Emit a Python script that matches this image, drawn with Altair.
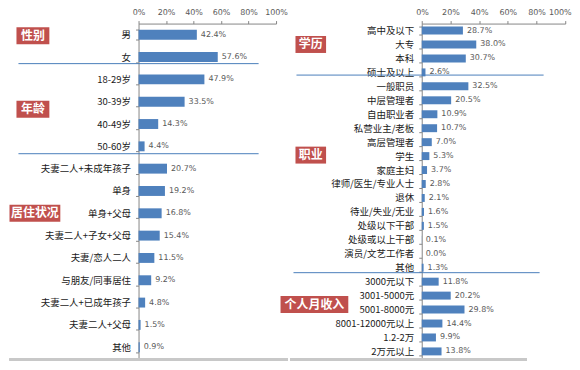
import altair as alt
import pandas as pd

# ---------------- data ----------------
left_cats = ["男", "女", "18-29岁", "30-39岁", "40-49岁", "50-60岁",
             "夫妻二人+未成年孩子", "单身", "单身+父母", "夫妻二人+子女+父母",
             "夫妻/恋人二人", "与朋友/同事居住", "夫妻二人+已成年孩子",
             "夫妻二人+父母", "其他"]
left_vals = [42.4, 57.6, 47.9, 33.5, 14.3, 4.4, 20.7, 19.2, 16.8, 15.4,
             11.5, 9.2, 4.8, 1.5, 0.9]

right_cats = ["高中及以下", "大专", "本科", "硕士及以上",
              "一般职员", "中层管理者", "自由职业者", "私营业主/老板", "高层管理者",
              "学生", "家庭主妇", "律师/医生/专业人士", "退休", "待业/失业/无业",
              "处级以下干部", "处级或以上干部", "演员/文艺工作者", "其他",
              "3000元以下", "3001-5000元", "5001-8000元", "8001-12000元以上",
              "1.2-2万", "2万元以上"]
right_vals = [28.7, 38.0, 30.7, 2.6, 32.5, 20.5, 10.9, 10.7, 7.0, 5.3, 3.7,
              2.8, 2.1, 1.6, 1.5, 0.1, 0.0, 1.3, 11.8, 20.2, 29.8, 14.4, 9.9, 13.8]

left_groups = ["性别", "年龄", "居住状况"]
left_group_anchor = ["男", "30-39岁", "单身+父母"]
right_groups = ["学历", "职业", "个人月收入"]
right_group_anchor = ["大专", "学生", "5001-8000元"]

left_sep_anchor = ["女", "50-60岁"]
right_sep_anchor = ["硕士及以上", "其他"]

tick_values = [0, 20, 40, 60, 80, 100]

# ---------------- style ----------------
BAR = "#4f81bd"
RED = "#c0504d"
SEP = "#4a7ebb"
AXC = "#868686"
CJK = "Noto Sans CJK SC"
NUM = "DejaVu Sans"
H = 336


def panel(cats, vals, width, pad_inner, groups, anchors, box_geo,
          sep_anchors, sep_geo, bottom_geo, flush):
    df = pd.DataFrame({"cat": cats, "v": vals})
    yenc = alt.Y("cat:N", sort=cats, title=None,
                 scale=alt.Scale(domain=cats, paddingInner=pad_inner,
                                 paddingOuter=pad_inner / 2),
                 axis=alt.Axis(domainColor=AXC, tickColor=AXC, tickSize=3,
                               tickBand="extent", labelPadding=5,
                               labelFont=CJK, labelFontSize=9.5,
                               labelColor="#1a1a1a", labelOverlap=False,
                               grid=False))
    xaxis_kw = dict(orient="top", values=tick_values,
                    labelExpr="datum.value + '%'",
                    labelOverlap=False, labelBound=False,
                    domainColor=AXC, tickColor=AXC, tickSize=3,
                    labelPadding=4, labelFont=NUM, labelFontSize=8,
                    labelColor="#595959", grid=False)
    if flush:
        xaxis_kw.update(labelFlush=True, labelFlushOffset=6)
    else:
        xaxis_kw.update(labelFlush=False)
    xenc = alt.X("v:Q", title=None, scale=alt.Scale(domain=[0, 100]),
                 axis=alt.Axis(**xaxis_kw))
    bars = alt.Chart(df).mark_bar(color=BAR).encode(x=xenc, y=yenc)
    txt = alt.Chart(df).transform_calculate(
        lbl="format(datum.v, '.1f') + '%'"
    ).mark_text(align="left", baseline="middle", dx=4, font=NUM, fontSize=8,
                color="#595959").encode(x=xenc, y=yenc, text="lbl:N")
    layers = [bars, txt]

    for name, anc, (x0, x1, off) in zip(groups, anchors, box_geo):
        bdf = pd.DataFrame({"cat": [anc], "name": [name]})
        layers.append(alt.Chart(bdf).mark_bar(color=RED, size=17, yOffset=off)
                      .encode(y=yenc, x=alt.value(x0), x2=alt.value(x1)))
        layers.append(alt.Chart(bdf).mark_text(color="white", fontWeight="bold",
                                               font=CJK, fontSize=12,
                                               yOffset=off, align="center",
                                               baseline="middle")
                      .encode(y=yenc, x=alt.value((x0 + x1) / 2),
                              text="name:N"))
    for anc, (x0, x1, off) in zip(sep_anchors, sep_geo):
        sdf = pd.DataFrame({"cat": [anc]})
        layers.append(alt.Chart(sdf).mark_rule(color=SEP, strokeWidth=1,
                                                yOffset=off)
                      .encode(y=yenc, x=alt.value(x0), x2=alt.value(x1)))
    layers.append(alt.Chart(df).mark_rule(color="#c8c8c8", strokeWidth=1.5)
                  .encode(x=alt.value(bottom_geo[0]), x2=alt.value(bottom_geo[1]),
                          y=alt.value(H + 1)))
    return alt.layer(*layers).properties(width=width, height=H)


left = panel(left_cats, left_vals, 138, 0.556,
             left_groups, left_group_anchor,
             [(-122.5, -89.5, 1), (-122.5, -89.5, 7.5), (-129.5, -78.5, 0)],
             left_sep_anchor, [(-120.5, 120.5, 6.6), (-120.5, 120.5, 7.4)],
             (-129.5, 150), False)
right = panel(right_cats, right_vals, 144, 0.43,
              right_groups, right_group_anchor,
              [(-126.7, -96, 0), (-126.7, -96, -1), (-141.7, -73.7, -5)],
              right_sep_anchor, [(-125.7, 122.3, 2.7), (-128.7, 118.3, 5)],
              (-131.7, 105), True)

chart = alt.hconcat(left, right, spacing=146.2, bounds="flush").properties(
    padding=0, background="white"
).configure_view(strokeWidth=0)

chart.save("out.html", embed_options={"renderer": "svg", "actions": False})
